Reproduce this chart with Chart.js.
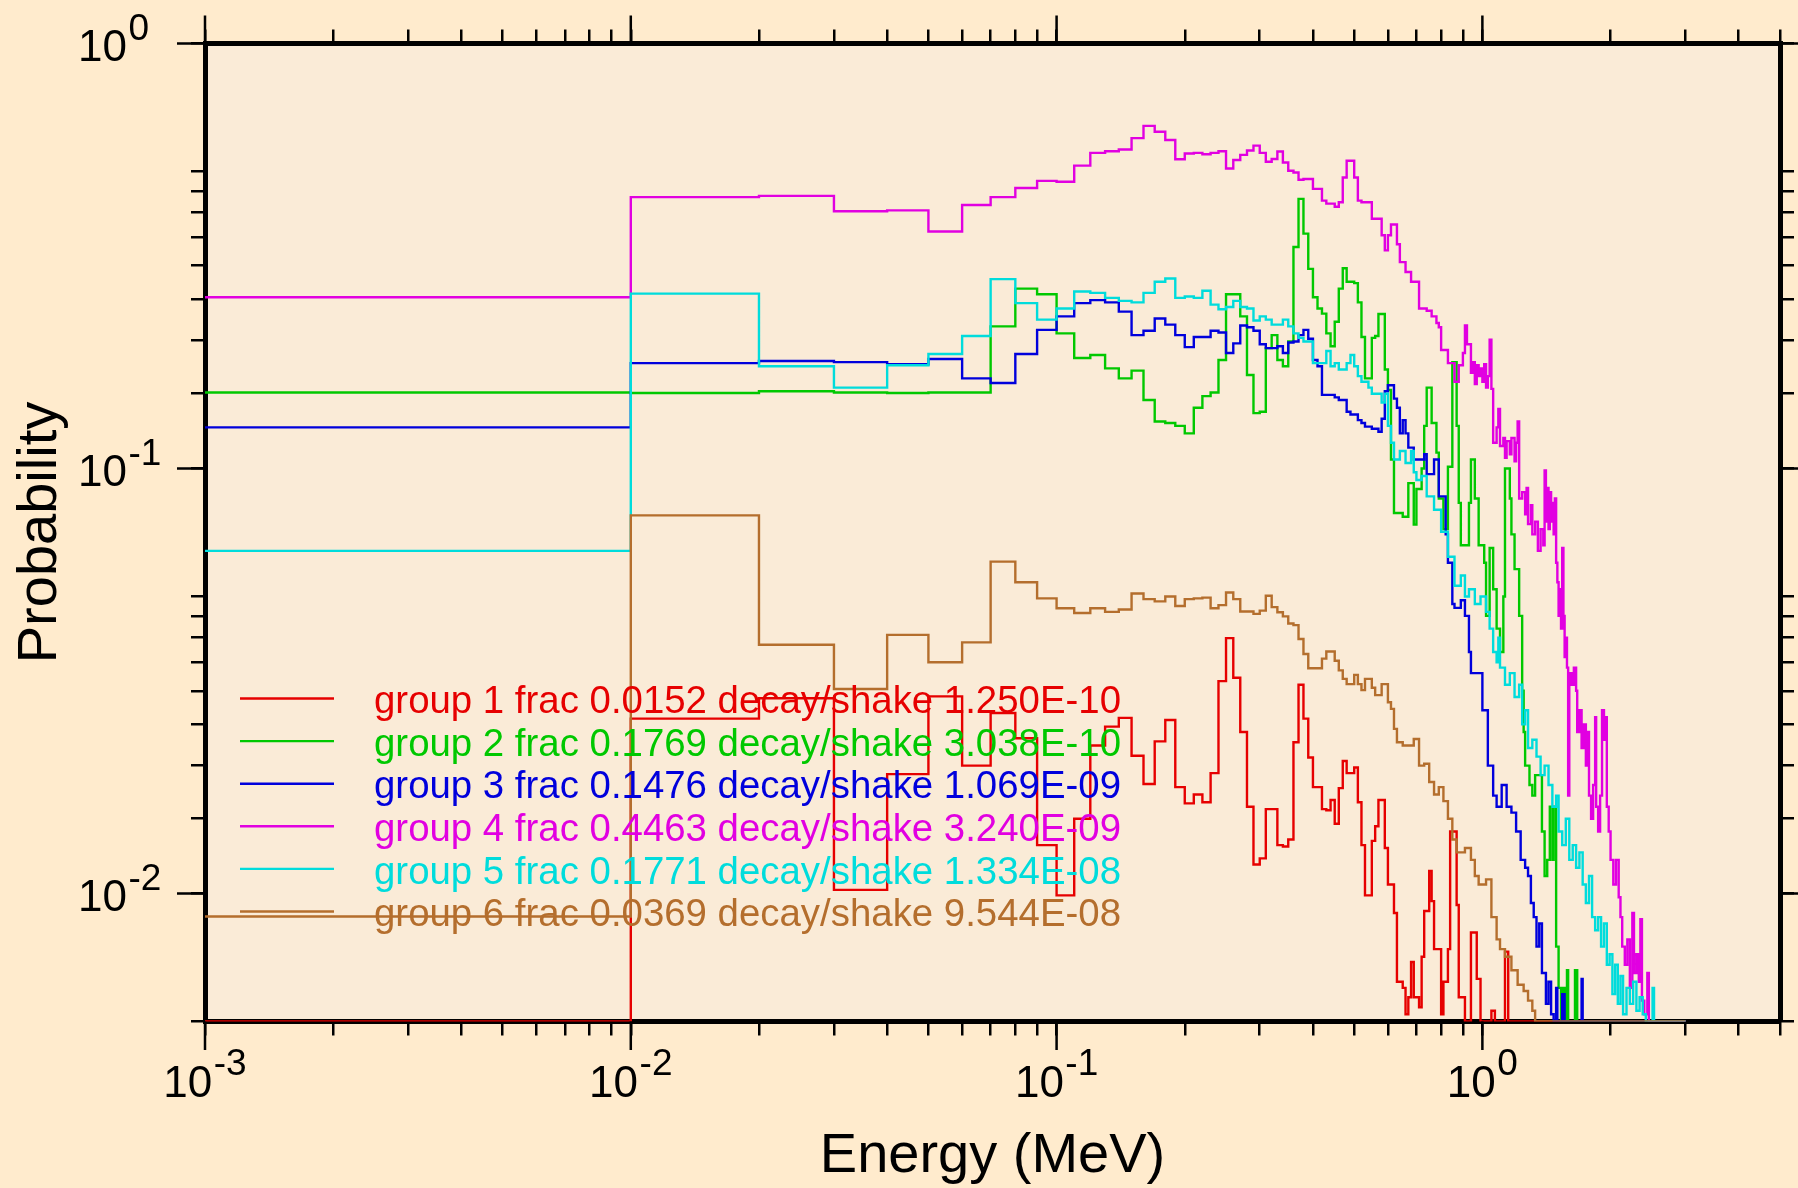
<!DOCTYPE html>
<html>
<head>
<meta charset="utf-8">
<title>Probability vs Energy</title>
<script src="https://cdn.jsdelivr.net/npm/chart.js@4.4.1/dist/chart.umd.min.js"></script>
<style>
  html, body { margin: 0; padding: 0; background: #FFEBCD; }
  canvas { display: block; }
</style>
</head>
<body>
<canvas id="chart1" width="1798" height="1188"></canvas>
<script>
// histogram bins: [left edge in MeV, probability]; 0 = empty bin
const group1 = [[0.001,0],[0.01,0.0258],[0.02,0.0288],[0.03,0.0102],[0.04,0.0191],[0.05,0.0291],[0.06,0.0200],[0.07,0.0266],[0.08,0.0232],[0.09,0.0130],
  [0.10,0.0099],[0.11,0.0150],[0.12,0.0223],[0.13,0.0247],[0.14,0.0259],[0.15,0.0211],[0.16,0.0181],[0.17,0.0228],[0.18,0.0256],[0.19,0.0178],
  [0.20,0.0163],[0.21,0.0171],[0.22,0.0164],[0.23,0.0192],[0.24,0.0316],[0.25,0.0399],[0.26,0.0322],[0.27,0.0240],[0.28,0.0160],[0.29,0.0117],
  [0.30,0.0121],[0.31,0.0158],[0.33,0.0130],[0.34,0.0129],[0.35,0.0134],[0.36,0.0227],[0.37,0.0310],[0.38,0.0258],[0.39,0.0209],[0.40,0.0178],
  [0.42,0.0158],[0.43,0.0157],[0.44,0.0166],[0.45,0.0146],[0.46,0.0177],[0.47,0.0205],[0.48,0.0192],[0.50,0.0198],[0.51,0.0164],[0.52,0.0130],
  [0.53,0.0099],[0.55,0.0133],[0.56,0.0144],[0.57,0.0166],[0.59,0.0128],[0.60,0.0105],[0.62,0.0090],[0.63,0.0062],[0.65,0.0060],[0.66,0.0052],
  [0.67,0.0057],[0.68,0.0069],[0.69,0.0057],[0.71,0.0054],[0.72,0.0071],[0.73,0.0091],[0.75,0.0113],[0.76,0.0096],[0.77,0.0074],[0.80,0.0052],
  [0.81,0.0062],[0.83,0.0074],[0.84,0.0140],[0.87,0.0094],[0.88,0.0057],[0.91,0],[0.94,0.0081],[0.97,0.0063],[0.99,0],[1.05,0.0053],
  [1.07,0],[1.13,0.0073],[1.15,0],[3.0,0]];

const group2 = [[0.001,0.151],[0.01,0.1505],[0.02,0.152],[0.03,0.151],[0.04,0.1505],[0.05,0.151],[0.06,0.151],[0.07,0.216],[0.08,0.265],[0.09,0.257],
  [0.10,0.208],[0.11,0.182],[0.12,0.185],[0.13,0.172],[0.14,0.163],[0.15,0.170],[0.16,0.145],[0.17,0.129],[0.18,0.128],[0.19,0.126],
  [0.20,0.121],[0.21,0.139],[0.22,0.148],[0.23,0.151],[0.24,0.180],[0.25,0.257],[0.26,0.257],[0.27,0.228],[0.28,0.166],[0.29,0.135],
  [0.30,0.136],[0.31,0.192],[0.32,0.206],[0.33,0.180],[0.34,0.174],[0.35,0.199],[0.36,0.332],[0.37,0.431],[0.38,0.357],[0.39,0.295],
  [0.40,0.253],[0.41,0.238],[0.42,0.2315],[0.43,0.208],[0.44,0.194],[0.45,0.2215],[0.46,0.265],[0.47,0.296],[0.48,0.275],[0.50,0.273],
  [0.51,0.246],[0.52,0.204],[0.53,0.163],[0.55,0.203],[0.56,0.205],[0.57,0.231],[0.59,0.171],[0.60,0.153],[0.61,0.105],[0.62,0.0786],
  [0.65,0.077],[0.67,0.0924],[0.69,0.0738],[0.70,0.0895],[0.72,0.100],[0.73,0.126],[0.74,0.155],[0.76,0.128],[0.78,0.109],[0.79,0.085],
  [0.81,0.072],[0.83,0.101],[0.85,0.178],[0.87,0.126],[0.88,0.083],[0.89,0.066],[0.93,0.083],[0.94,0.105],[0.96,0.085],[0.98,0.066],
  [1.01,0.060],[1.02,0.045],[1.04,0.065],[1.06,0.052],[1.08,0.042],[1.10,0.037],[1.12,0.050],[1.13,0.100],[1.16,0.085],[1.17,0.070],
  [1.19,0.058],[1.22,0.045],[1.24,0.030],[1.25,0.024],[1.26,0.020],[1.29,0.018],[1.31,0.017],[1.33,0.019],[1.38,0.014],[1.40,0.011],
  [1.42,0.012],[1.44,0.016],[1.46,0.012],[1.47,0.016],[1.49,0.0075],[1.51,0.006],[1.53,0],[1.54,0.006],[1.56,0],[1.58,0.0066],
  [1.59,0],[1.65,0.0066],[1.67,0],[3.0,0]];

const group3 = [[0.001,0.125],[0.01,0.177],[0.02,0.179],[0.03,0.178],[0.04,0.176],[0.05,0.181],[0.06,0.163],[0.07,0.159],[0.08,0.186],[0.09,0.212],
  [0.10,0.228],[0.11,0.245],[0.12,0.249],[0.13,0.246],[0.14,0.234],[0.15,0.206],[0.16,0.211],[0.17,0.2255],[0.18,0.218],[0.19,0.206],
  [0.20,0.193],[0.21,0.204],[0.22,0.204],[0.23,0.211],[0.24,0.209],[0.25,0.187],[0.26,0.197],[0.27,0.217],[0.28,0.215],[0.29,0.211],
  [0.30,0.196],[0.31,0.192],[0.32,0.192],[0.33,0.194],[0.34,0.187],[0.35,0.198],[0.36,0.199],[0.37,0.206],[0.38,0.212],[0.39,0.202],
  [0.40,0.180],[0.41,0.174],[0.42,0.149],[0.45,0.147],[0.46,0.145],[0.48,0.136],[0.49,0.134],[0.51,0.130],[0.52,0.128],[0.53,0.1255],
  [0.55,0.124],[0.57,0.122],[0.58,0.131],[0.59,0.152],[0.60,0.157],[0.62,0.146],[0.63,0.139],[0.64,0.121],[0.65,0.130],[0.66,0.121],
  [0.67,0.112],[0.69,0.105],[0.73,0.108],[0.74,0.097],[0.77,0.105],[0.79,0.086],[0.82,0.070],[0.83,0.060],[0.85,0.048],[0.86,0.047],
  [0.89,0.049],[0.91,0.045],[0.93,0.037],[0.94,0.033],[1.00,0.027],[1.03,0.020],[1.06,0.017],[1.08,0.016],[1.11,0.018],[1.14,0.016],
  [1.17,0.0155],[1.20,0.014],[1.23,0.012],[1.26,0.0115],[1.28,0.011],[1.30,0.0095],[1.32,0.0088],[1.34,0.0075],[1.36,0.0085],[1.38,0.0065],
  [1.41,0.0055],[1.43,0.0062],[1.45,0.0052],[1.47,0],[1.49,0.006],[1.50,0],[1.54,0.0058],[1.56,0],[1.71,0.0063],[1.72,0],[3.0,0]];

const group4 = [[0.001,0.253],[0.01,0.435],[0.02,0.438],[0.03,0.403],[0.04,0.405],[0.05,0.361],[0.06,0.417],[0.07,0.435],[0.08,0.457],[0.09,0.475],
  [0.10,0.473],[0.11,0.516],[0.12,0.553],[0.13,0.558],[0.14,0.563],[0.15,0.599],[0.16,0.640],[0.17,0.620],[0.18,0.593],[0.19,0.534],
  [0.20,0.551],[0.21,0.553],[0.22,0.549],[0.23,0.553],[0.24,0.558],[0.25,0.508],[0.26,0.532],[0.27,0.547],[0.28,0.560],[0.29,0.575],
  [0.30,0.553],[0.31,0.527],[0.32,0.535],[0.33,0.557],[0.34,0.525],[0.35,0.502],[0.36,0.497],[0.37,0.478],[0.38,0.480],[0.40,0.455],
  [0.42,0.427],[0.43,0.420],[0.45,0.413],[0.46,0.423],[0.47,0.484],[0.48,0.530],[0.50,0.484],[0.51,0.427],[0.52,0.423],[0.55,0.387],
  [0.58,0.354],[0.59,0.326],[0.60,0.354],[0.61,0.375],[0.63,0.337],[0.64,0.306],[0.66,0.290],[0.68,0.275],[0.71,0.238],[0.74,0.235],
  [0.76,0.228],[0.78,0.220],[0.79,0.215],[0.80,0.190],[0.83,0.177],[0.86,0.160],[0.88,0.175],[0.90,0.187],[0.91,0.217],[0.92,0.196],
  [0.94,0.168],[0.95,0.178],[0.96,0.158],[0.97,0.175],[0.98,0.165],[0.99,0.172],[1.00,0.160],[1.01,0.176],[1.02,0.155],[1.03,0.165],
  [1.04,0.201],[1.05,0.154],[1.06,0.115],[1.08,0.125],[1.09,0.138],[1.10,0.113],[1.12,0.118],[1.13,0.106],[1.14,0.116],[1.16,0.108],
  [1.17,0.118],[1.19,0.104],[1.20,0.115],[1.21,0.129],[1.22,0.085],[1.24,0.088],[1.26,0.078],[1.27,0.090],[1.28,0.074],[1.30,0.082],
  [1.31,0.070],[1.33,0.075],[1.35,0.064],[1.37,0.072],[1.39,0.066],[1.40,0.099],[1.41,0.075],[1.42,0.090],[1.43,0.072],[1.44,0.088],
  [1.45,0.075],[1.46,0.083],[1.47,0.070],[1.48,0.085],[1.49,0.060],[1.50,0.054],[1.51,0.045],[1.52,0.052],[1.53,0.042],[1.54,0.065],
  [1.55,0.045],[1.56,0.036],[1.57,0.040],[1.58,0.034],[1.59,0.017],[1.60,0.033],[1.62,0.031],[1.64,0.034],[1.66,0.030],[1.67,0.024],
  [1.69,0.027],[1.71,0.022],[1.73,0.025],[1.75,0.020],[1.77,0.024],[1.78,0.017],[1.80,0.015],[1.82,0.018],[1.84,0.026],[1.85,0.016],
  [1.87,0.014],[1.89,0.017],[1.91,0.027],[1.93,0.023],[1.95,0.026],[1.96,0.016],[1.98,0.014],[2.00,0.012],[2.03,0.0105],[2.06,0.012],
  [2.09,0.0098],[2.11,0.0088],[2.13,0.0075],[2.16,0.0068],[2.19,0.0078],[2.22,0.006],[2.25,0.009],[2.27,0.0065],[2.30,0.0072],[2.33,0.0062],
  [2.35,0.0087],[2.37,0.0056],[2.40,0.0052],[2.44,0.0065],[2.46,0],[3.0,0]];

const group5 = [[0.001,0.064],[0.01,0.258],[0.02,0.174],[0.03,0.155],[0.04,0.175],[0.05,0.186],[0.06,0.205],[0.07,0.279],[0.08,0.245],[0.09,0.224],
  [0.10,0.238],[0.11,0.261],[0.12,0.259],[0.13,0.252],[0.14,0.248],[0.15,0.246],[0.16,0.259],[0.17,0.275],[0.18,0.280],[0.19,0.252],
  [0.20,0.254],[0.21,0.252],[0.22,0.262],[0.23,0.243],[0.24,0.237],[0.25,0.240],[0.26,0.248],[0.27,0.240],[0.28,0.238],[0.29,0.223],
  [0.30,0.228],[0.31,0.224],[0.32,0.218],[0.34,0.224],[0.35,0.216],[0.36,0.208],[0.37,0.203],[0.38,0.199],[0.40,0.177],[0.43,0.189],
  [0.44,0.174],[0.45,0.177],[0.46,0.171],[0.48,0.177],[0.49,0.185],[0.50,0.174],[0.51,0.165],[0.52,0.160],[0.54,0.155],[0.55,0.150],
  [0.58,0.143],[0.59,0.150],[0.60,0.126],[0.61,0.115],[0.62,0.105],[0.64,0.110],[0.66,0.103],[0.68,0.110],[0.69,0.098],[0.70,0.094],
  [0.72,0.096],[0.74,0.086],[0.77,0.080],[0.80,0.071],[0.83,0.062],[0.86,0.053],[0.89,0.056],[0.91,0.050],[0.93,0.052],[0.96,0.048],
  [0.99,0.050],[1.02,0.046],[1.04,0.042],[1.06,0.037],[1.08,0.035],[1.09,0.040],[1.10,0.034],[1.13,0.031],[1.16,0.033],[1.19,0.029],
  [1.22,0.031],[1.24,0.025],[1.26,0.027],[1.28,0.022],[1.31,0.023],[1.34,0.021],[1.37,0.019],[1.40,0.020],[1.43,0.018],[1.46,0.016],
  [1.49,0.017],[1.51,0.014],[1.54,0.013],[1.57,0.015],[1.60,0.012],[1.63,0.013],[1.66,0.0115],[1.69,0.0125],[1.72,0.0105],[1.75,0.0095],
  [1.78,0.011],[1.81,0.0088],[1.84,0.0082],[1.87,0.0088],[1.90,0.0075],[1.93,0.0085],[1.96,0.0068],[1.99,0.0072],[2.02,0.0058],[2.05,0.0068],
  [2.08,0.0055],[2.11,0.0064],[2.14,0.0052],[2.18,0.0060],[2.22,0.0055],[2.26,0.0062],[2.30,0.0053],[2.34,0.0057],[2.38,0.0052],[2.42,0],
  [2.51,0.0060],[2.53,0],[3.0,0]];

const group6 = [[0.001,0.00883],[0.01,0.0776],[0.02,0.0385],[0.03,0.0303],[0.04,0.0406],[0.05,0.0350],[0.06,0.0390],[0.07,0.0604],[0.08,0.0540],[0.09,0.0495],
  [0.10,0.0469],[0.11,0.0457],[0.12,0.0469],[0.13,0.0460],[0.14,0.0466],[0.15,0.0508],[0.16,0.0493],[0.17,0.0487],[0.18,0.0500],[0.19,0.0475],
  [0.20,0.0493],[0.21,0.0495],[0.22,0.0497],[0.23,0.0469],[0.24,0.0477],[0.25,0.0511],[0.26,0.0493],[0.27,0.0461],[0.29,0.0455],[0.30,0.0463],
  [0.31,0.0502],[0.32,0.0472],[0.33,0.0459],[0.34,0.0449],[0.35,0.0432],[0.36,0.0428],[0.37,0.0397],[0.38,0.0366],[0.39,0.0339],[0.42,0.0357],
  [0.43,0.0371],[0.45,0.0353],[0.46,0.0335],[0.47,0.0320],[0.48,0.0311],[0.50,0.0327],[0.51,0.0311],[0.52,0.0301],[0.53,0.0320],[0.55,0.0305],
  [0.56,0.0293],[0.58,0.0311],[0.60,0.0282],[0.61,0.0272],[0.62,0.0244],[0.63,0.0227],[0.65,0.0223],[0.69,0.0231],[0.71,0.0200],[0.73,0.0202],
  [0.75,0.0183],[0.77,0.0171],[0.79,0.0178],[0.81,0.0165],[0.83,0.0150],[0.85,0.0134],[0.87,0.0125],[0.91,0.0128],[0.94,0.0120],[0.96,0.0110],
  [0.98,0.0105],[1.02,0.0108],[1.05,0.0088],[1.08,0.0078],[1.10,0.0074],[1.13,0.0071],[1.17,0.0066],[1.21,0.0061],[1.25,0.0059],[1.28,0.0056],
  [1.31,0.0053],[1.33,0],[3.0,0]];

const groupNames = [
  'group 1 frac 0.0152 decay/shake 1.250E-10',
  'group 2 frac 0.1769 decay/shake 3.038E-10',
  'group 3 frac 0.1476 decay/shake 1.069E-09',
  'group 4 frac 0.4463 decay/shake 3.240E-09',
  'group 5 frac 0.1771 decay/shake 1.334E-08',
  'group 6 frac 0.0369 decay/shake 9.544E-08'
];
const groupColors = ['#E60000', '#00C800', '#0000DC', '#E100E1', '#00DCDC', '#B46E2D'];

const xDecades = [0.001, 0.01, 0.1, 1];
const xExponents = ['-3', '-2', '-1', '0'];
const yDecades = [0.01, 0.1, 1];
const yExponents = ['-2', '-1', '0'];
const xMin = 0.001, xMax = 5, yMin = 0.005, yMax = 1;

const FONT = '"Liberation Sans", Arial, Helvetica, sans-serif';
const pageColor = '#FFEBCD';
const plotColor = '#FAEBD7';

// 1..9 marks inside each decade
function decadeTicks(lo, hi) {
  const out = [];
  for (let d = lo; d < hi * 10; d *= 10) {
    for (let k = 1; k <= 9; k++) {
      const v = +(k * d).toPrecision(3);
      if (v >= lo && v <= hi) out.push(v);
    }
  }
  return out;
}
const xTicks = decadeTicks(xMin, xMax);
const yTicks = decadeTicks(yMin, yMax);

const groups = [group1, group2, group3, group4, group5, group6];
const datasets = groups.map((g, i) => ({
  label: groupNames[i],
  data: g.map(([e, p]) => ({x: e, y: p > 0 ? p : yMin})),
  borderColor: groupColors[i],
  borderWidth: 2.4,
  pointRadius: 0,
  stepped: 'before',
  fill: false,
  xAxisID: 'x',
  yAxisID: 'y',
  order: groups.length - 1 - i
}));

function logAxis(position, min, max, ticks) {
  return {
    type: 'logarithmic',
    position: position,
    min: min,
    max: max,
    display: true,
    afterBuildTicks: s => { s.ticks = ticks.map(v => ({value: v})); },
    ticks: {display: false},
    grid: {display: true, drawOnChartArea: false, drawTicks: true, tickLength: 14,
           tickWidth: 2.5, tickColor: '#000', lineWidth: 2.5, color: '#000'},
    border: {display: true, width: 5, color: '#000'}
  };
}

function powerWidth(ctx, exp) {
  ctx.font = '44px ' + FONT;
  const w1 = ctx.measureText('10').width;
  ctx.font = '37px ' + FONT;
  return w1 + 1.5 + ctx.measureText(exp).width;
}
function drawPower(ctx, left, baseY, expY, exp) {
  ctx.font = '44px ' + FONT;
  ctx.fillText('10', left, baseY);
  const w1 = ctx.measureText('10').width;
  ctx.font = '37px ' + FONT;
  ctx.fillText(exp, left + w1 + 1.5, expY);
}

const decorations = {
  id: 'decorations',
  beforeDraw(chart) {
    const {ctx, chartArea: a} = chart;
    ctx.save();
    ctx.fillStyle = pageColor;
    ctx.fillRect(0, 0, chart.width, chart.height);
    ctx.fillStyle = plotColor;
    ctx.fillRect(a.left, a.top, a.right - a.left, a.bottom - a.top);
    ctx.restore();
  },
  afterDatasetsDraw(chart) {
    const ctx = chart.ctx;
    ctx.save();
    ctx.font = '38.4px ' + FONT;
    ctx.textAlign = 'left';
    ctx.textBaseline = 'alphabetic';
    groupNames.forEach((name, i) => {
      const ry = 699.5 + 42.6 * i;
      ctx.strokeStyle = groupColors[i];
      ctx.lineWidth = 2.4;
      ctx.beginPath();
      ctx.moveTo(240, ry - 1);
      ctx.lineTo(334, ry - 1);
      ctx.stroke();
      ctx.fillStyle = groupColors[i];
      ctx.fillText(name, 374, ry + 13.6);
    });
    ctx.restore();
  },
  afterDraw(chart) {
    const {ctx, chartArea: a, scales: {x, y}} = chart;
    ctx.save();
    // longer marks at the decades, all four sides
    ctx.strokeStyle = '#000';
    ctx.lineWidth = 2.5;
    ctx.beginPath();
    xDecades.forEach(v => {
      const px = x.getPixelForValue(v);
      ctx.moveTo(px, a.top); ctx.lineTo(px, a.top - 28);
      ctx.moveTo(px, a.bottom); ctx.lineTo(px, a.bottom + 28.5);
    });
    yDecades.forEach(v => {
      const py = y.getPixelForValue(v);
      ctx.moveTo(a.left, py); ctx.lineTo(a.left - 28, py);
      ctx.moveTo(a.right, py); ctx.lineTo(a.right + 28, py);
    });
    ctx.stroke();

    ctx.fillStyle = '#000';
    ctx.textAlign = 'left';
    ctx.textBaseline = 'alphabetic';
    xDecades.forEach((v, i) => {
      const px = x.getPixelForValue(v);
      const w = powerWidth(ctx, xExponents[i]);
      drawPower(ctx, px - w / 2, a.bottom + 75, a.bottom + 53.5, xExponents[i]);
    });
    yDecades.forEach((v, i) => {
      const py = y.getPixelForValue(v);
      drawPower(ctx, 78, py + 17.5, py - 3.5, yExponents[i]);
    });

    ctx.font = '56px ' + FONT;
    ctx.textAlign = 'center';
    ctx.fillText('Energy (MeV)', (a.left + a.right) / 2, 1172);
    ctx.translate(56, (a.top + a.bottom) / 2);
    ctx.rotate(-Math.PI / 2);
    ctx.fillText('Probability', 0, 0);
    ctx.restore();
  }
};

const ctx1 = document.getElementById('chart1').getContext('2d');
const chart1 = new Chart(ctx1, {
  type: 'line',
  data: {datasets: datasets},
  options: {
    responsive: false,
    animation: false,
    events: [],
    layout: {padding: {left: 191, top: 29.5, right: 4, bottom: 152.5}},
    plugins: {
      legend: {display: false},
      tooltip: {enabled: false}
    },
    scales: {
      x: logAxis('bottom', xMin, xMax, xTicks),
      x2: logAxis('top', xMin, xMax, xTicks),
      y: logAxis('left', yMin, yMax, yTicks),
      y2: logAxis('right', yMin, yMax, yTicks)
    }
  },
  plugins: [decorations]
});
</script>
</body>
</html>
